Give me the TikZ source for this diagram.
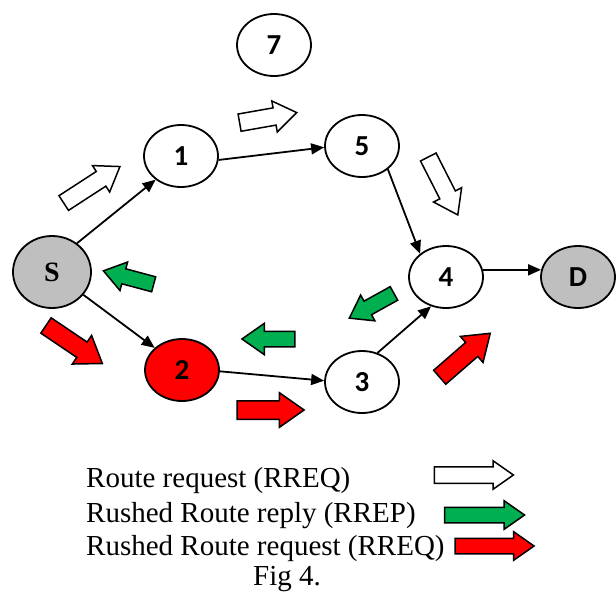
\documentclass[tikz,border=0pt]{standalone}
\usepackage{fontspec}
\setmainfont{Liberation Serif}
\newfontfamily\carl{Carlito}
\usetikzlibrary{shapes.geometric,shapes.arrows,arrows.meta}
\definecolor{ggray}{HTML}{BFBFBF}
\definecolor{ggreen}{HTML}{00B050}
\definecolor{rred}{HTML}{FF0000}
\begin{document}
\begin{tikzpicture}[x=1pt,y=-1pt,
  nd/.style={ellipse, draw, line width=1.8pt, minimum width=74pt, minimum height=62pt, inner sep=0pt, font=\carl\bfseries\fontsize{29}{29}\selectfont},
  ed/.style={line width=1.8pt, -{Triangle[length=13pt,width=11pt]}},
  barrow/.style={single arrow, draw, line width=1.5pt, inner xsep=0pt, inner ysep=8pt, minimum width=0pt, single arrow head extend=7pt, single arrow tip angle=70, minimum height=#1},
  lg/.style={anchor=base west, inner sep=0pt, font=\fontsize{29}{29}\selectfont}]
\useasboundingbox (0,0) rectangle (616,592);
% nodes
\node[nd] (n7) at (274,45) {7};
\node[nd] (n1) at (181,156) {1};
\node[nd] (n5) at (362,146) {5};
\node[nd, fill=ggray, minimum width=78pt, minimum height=72pt, font=\rmfamily\bfseries\fontsize{28}{28}\selectfont] (S) at (52,272) {S};
\node[nd, fill=rred] (n2) at (182,370) {2};
\node[nd] (n3) at (362,382) {3};
\node[nd] (n4) at (446,277) {4};
\node[nd, fill=ggray] (D) at (578,277) {D};
% edges
\draw[ed] (S.49) -- (n1.-137);
\draw[ed] (n1.-6) -- (n5.182);
\draw[ed] (n5.-42) -- (n4.138);
\draw[ed] (S.-36) -- (n2.141);
\draw[ed] (n2.-2) -- (n3.178);
\draw[ed] (n3.62) -- (n4.-117);
\draw[ed] (n4.11) -- (D.169);
% block arrows
\node[barrow=67pt, fill=white, rotate=33] (w1) at (86.6,188.2) {};
\node[barrow=58pt, fill=white, rotate=10] (w2) at (262,118.7) {};
\node[barrow=65pt, fill=white, rotate=-63] (w3) at (440.2,180.4) {};
\node[barrow=52pt, fill=ggreen, inner ysep=7pt, rotate=165] (g1) at (133.9,279) {};
\node[barrow=53pt, fill=ggreen, inner ysep=7pt, single arrow head extend=8pt, rotate=180] (g2) at (274,339) {};
\node[barrow=51pt, fill=ggreen, inner ysep=7pt, rotate=209] (g3) at (376.5,303.1) {};
\node[barrow=68pt, fill=rred, inner ysep=8.5pt, single arrow head extend=8pt, rotate=-34] (r1) at (68.7,340.8) {};
\node[barrow=67pt, fill=rred, inner ysep=8.5pt, single arrow head extend=8pt, rotate=0] (r2) at (264,410) {};
\node[barrow=67pt, fill=rred, inner ysep=8.5pt, single arrow head extend=8pt, rotate=41] (r3) at (460,359.6) {};
% legend
\node[lg] (t1) at (86,487) {Route request (RREQ)};
\node[lg] (t2) at (86,522) {Rushed Route reply (RREP)};
\node[lg] (t3) at (86,555) {Rushed Route request (RREQ)};
\node[anchor=base, inner sep=0pt, font=\fontsize{29}{29}\selectfont] (fig) at (287,585) {Fig 4.};
\node[barrow=79pt, fill=white, inner ysep=7.5pt, single arrow head extend=6pt] (lw) at (468,475) {};
\node[barrow=80pt, fill=ggreen, inner ysep=7pt, single arrow head extend=6.5pt] (lgr) at (479,515) {};
\node[barrow=79pt, fill=rred, inner ysep=7pt, single arrow head extend=6.5pt] (lr) at (489,546) {};
\end{tikzpicture}
\end{document}
